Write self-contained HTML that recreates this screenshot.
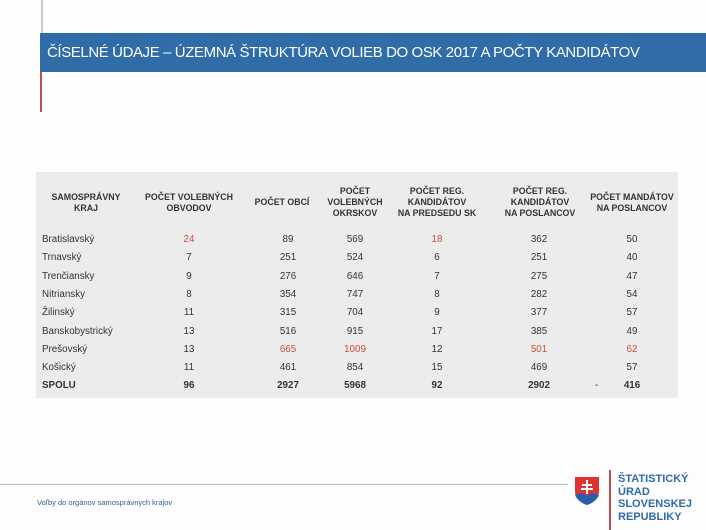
<!DOCTYPE html>
<html><head><meta charset="utf-8"><style>
body{margin:0;width:706px;height:530px;background:#fdfdfd;position:relative;overflow:hidden;font-family:"Liberation Sans",sans-serif}
.a{position:absolute}
.bar{left:40px;top:33px;width:666px;height:39px;background:#2f6ca8;color:#fff;font-size:15px;line-height:39px;padding-left:7px;box-sizing:border-box;letter-spacing:-0.4px;white-space:nowrap}
.tbl{left:36px;top:172px;width:642px;height:226px;background:#ececec}
.h{font-size:8.8px;font-weight:bold;color:#333;text-align:center;line-height:11px;transform:translateX(-50%);white-space:nowrap}
.c{font-size:9.8px;color:#333;transform:translateX(-50%);white-space:nowrap}
.l{font-size:9.8px;color:#333;white-space:nowrap}
.r{color:#c8503a}
.b{font-weight:bold}
</style></head><body>
<div class="a" style="left:41px;top:0;width:2px;height:33px;background:#ccc"></div>
<div class="a bar">ČÍSELNÉ ÚDAJE – ÚZEMNÁ ŠTRUKTÚRA VOLIEB DO OSK 2017 A POČTY KANDIDÁTOV</div>
<div class="a" style="left:40px;top:72px;width:2px;height:40px;background:#c0504d"></div>
<div class="a tbl"></div>
<div class="a h" style="left:86px;top:192px">SAMOSPRÁVNY<br>KRAJ</div>
<div class="a h" style="left:189px;top:192px">POČET VOLEBNÝCH<br>OBVODOV</div>
<div class="a h" style="left:282px;top:197px">POČET OBCÍ</div>
<div class="a h" style="left:355px;top:186px">POČET<br>VOLEBNÝCH<br>OKRSKOV</div>
<div class="a h" style="left:437px;top:186px">POČET REG.<br>KANDIDÁTOV<br>NA PREDSEDU SK</div>
<div class="a h" style="left:540px;top:186px">POČET REG.<br>KANDIDÁTOV<br>NA POSLANCOV</div>
<div class="a h" style="left:632px;top:192px">POČET MANDÁTOV<br>NA POSLANCOV</div>
<div id="rows"></div>
<script>
var d=[["Bratislavský","24","89","569","18","362","50"],["Trnavský","7","251","524","6","251","40"],["Trenčiansky","9","276","646","7","275","47"],["Nitriansky","8","354","747","8","282","54"],["Žilinský","11","315","704","9","377","57"],["Banskobystrický","13","516","915","17","385","49"],["Prešovský","13","665","1009","12","501","62"],["Košický","11","461","854","15","469","57"],["SPOLU","96","2927","5968","92","2902","416"]];
var xs=[189,288,355,437,539,632],red={"0-1":1,"0-4":1,"6-2":1,"6-3":1,"6-5":1,"6-6":1},h="";
d.forEach(function(r,i){var y=234+i*18.3,b=i==8?" b":"";
h+='<div class="a l'+b+'" style="left:42px;top:'+y+'px">'+r[0]+'</div>';
for(var j=1;j<7;j++){h+='<div class="a c'+b+(red[i+"-"+j]?" r":"")+'" style="left:'+xs[j-1]+'px;top:'+y+'px">'+r[j]+'</div>';}});
h+='<div class="a l" style="left:595px;top:380px">-</div>';
document.getElementById("rows").innerHTML=h;
</script>
<div class="a" style="left:0;top:484px;width:568px;height:1px;background:#bbb"></div>
<div class="a" style="left:37px;top:498px;font-size:7.5px;color:#2f5f9a">Voľby do orgánov samosprávnych krajov</div>
<svg class="a" style="left:574px;top:476px" width="26" height="30" viewBox="0 0 26 30"><path d="M1 1H25V15C25 23 18 27 13 29C8 27 1 23 1 15Z" fill="#d33"/><path d="M1 19Q7 15 13 20Q19 15 25 19Q22 26 13 29Q4 26 1 19Z" fill="#2a5ea8"/><path d="M12 4h2v14h-2zM8 8h10v2H8zM7 12h12v2H7z" fill="#fff"/></svg>
<div class="a" style="left:609px;top:470px;width:2px;height:60px;background:#c0504d"></div>
<div class="a" style="left:618px;top:473px;font-size:11px;line-height:12.5px;font-weight:bold;color:#2f6ca8">ŠTATISTICKÝ<br>ÚRAD<br>SLOVENSKEJ<br>REPUBLIKY</div>
</body></html>
